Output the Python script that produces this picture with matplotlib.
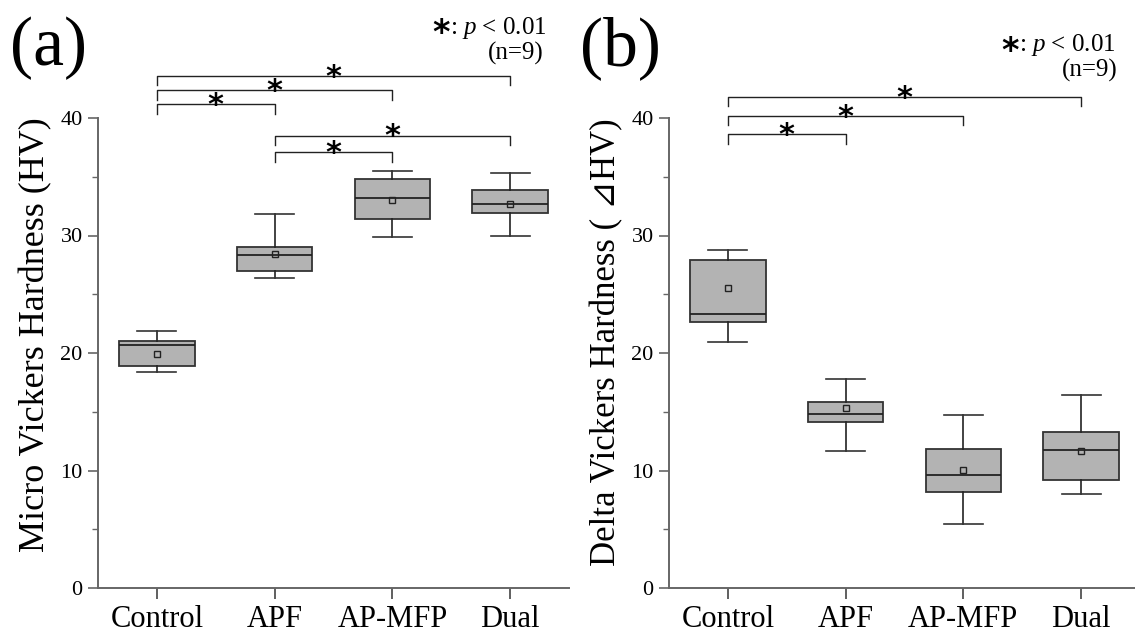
import numpy as np
import matplotlib
matplotlib.use("Agg")
import matplotlib.pyplot as plt

plt.rcParams['font.family'] = ['Liberation Serif', 'DejaVu Sans', 'Noto Sans CJK JP']
plt.rcParams['mathtext.fontset'] = 'custom'
plt.rcParams['mathtext.rm'] = 'Liberation Serif'
plt.rcParams['mathtext.it'] = 'Liberation Serif:italic'

groups = ['Control', 'APF', 'AP-MFP', 'Dual']

# (a) micro vickers hardness
a_whislo = [18.4, 26.4, 29.9, 30.0]
a_q1 = [18.9, 27.0, 31.4, 31.9]
a_med = [20.7, 28.3, 33.2, 32.7]
a_q3 = [21.0, 29.0, 34.8, 33.9]
a_whishi = [21.9, 31.8, 35.5, 35.3]
a_mean = [19.9, 28.4, 33.0, 32.7]

# (b) delta vickers hardness
b_whislo = [20.9, 11.65, 5.44, 8.0]
b_q1 = [22.6, 14.1, 8.14, 9.2]
b_med = [23.3, 14.8, 9.58, 11.76]
b_q3 = [27.9, 15.8, 11.8, 13.3]
b_whishi = [28.8, 17.8, 14.7, 16.4]
b_mean = [25.5, 15.3, 10.06, 11.7]

# significance brackets: (from, to, line height, leg bottom)
a_pairs = [(1, 4, 43.55, 42.85), (1, 3, 42.35, 41.55), (1, 2, 41.15, 40.3),
           (2, 4, 38.5, 37.7), (2, 3, 37.1, 36.25)]
b_pairs = [(1, 4, 41.8, 41.0), (1, 3, 40.2, 39.4), (1, 2, 38.65, 37.8)]

W, H = 1135, 631
fig = plt.figure(figsize=(W / 100, H / 100), dpi=100)


def px_axes(x0, x1, ytop, ybot):
    return fig.add_axes([x0 / W, 1 - ybot / H, (x1 - x0) / W, (ybot - ytop) / H])


def draw_panel(ax, lo, q1, med, q3, hi, mean, pairs):
    stats = []
    for i in range(len(groups)):
        stats.append(dict(whislo=lo[i], q1=q1[i], med=med[i], q3=q3[i],
                          whishi=hi[i], mean=mean[i], fliers=[]))
    ax.bxp(stats, positions=[1, 2, 3, 4], widths=0.64, capwidths=0.33,
           patch_artist=True, showmeans=True,
           boxprops=dict(facecolor='#b3b3b3', edgecolor='#333333', linewidth=1.3),
           medianprops=dict(color='#222222', linewidth=1.3),
           whiskerprops=dict(color='#222222', linewidth=1.2),
           capprops=dict(color='#333333', linewidth=1.2),
           meanprops=dict(marker='s', markersize=5, markerfacecolor='none',
                          markeredgecolor='#222222', markeredgewidth=1.0))
    for x1, x2, y, yl in pairs:
        ax.plot([x1, x1, x2, x2], [yl, y, y, yl], color='#222222', lw=1.0,
                clip_on=False)
        ax.text((x1 + x2) / 2, y - 1.35, '*', ha='center', va='bottom',
                fontsize=22, fontweight='bold', family='DejaVu Sans',
                clip_on=False)
    ax.set_xlim(0.5, 4.5)
    ax.set_ylim(0, 40)
    ax.set_xticks([1, 2, 3, 4])
    ax.set_xticklabels(groups, fontsize=22)
    ax.set_yticks([0, 10, 20, 30, 40])
    ax.set_yticks([5, 15, 25, 35], minor=True)
    ax.tick_params(axis='y', labelsize=16, length=7, width=1.2, color='#666666', pad=4)
    ax.tick_params(axis='y', which='minor', length=4, width=1.0, color='#666666')
    ax.tick_params(axis='x', length=8, width=1.2, color='#444444', pad=4)
    for s in ['top', 'right']:
        ax.spines[s].set_visible(False)
    for s in ['left', 'bottom']:
        ax.spines[s].set_color('#666666')
        ax.spines[s].set_linewidth(1.4)


axa = px_axes(98, 569, 118, 588)
draw_panel(axa, a_whislo, a_q1, a_med, a_q3, a_whishi, a_mean, a_pairs)
axb = px_axes(669, 1140, 118, 588)
draw_panel(axb, b_whislo, b_q1, b_med, b_q3, b_whishi, b_mean, b_pairs)

fig.text(36 / W, 1 - 335 / H, 'Micro Vickers Hardness (HV)', rotation=90,
         ha='center', va='center', fontsize=26)
fig.text(607 / W, 1 - 342 / H, 'Delta Vickers Hardness ( ⊿HV)', rotation=90,
         ha='center', va='center', fontsize=25)

fig.text(10 / W, 1 - 48 / H, '(a)', ha='left', va='center', fontsize=50)
fig.text(580 / W, 1 - 48 / H, '(b)', ha='left', va='center', fontsize=50)

# legend notes: (star centre x, text left x, p-line y, n-line right x, n-line y)
for xs, xt, yt, xn, yn in [(441, 450, 28, 544, 53), (1010, 1019, 45, 1118, 70)]:
    fig.text(xs / W, 1 - (yt + 6) / H, '*', ha='center', va='center',
             fontsize=24, fontweight='bold', family='DejaVu Sans')
    fig.text(xt / W, 1 - yt / H, ': $p$ < 0.01', ha='left', va='center', fontsize=18)
    fig.text(xn / W, 1 - yn / H, '(n=9)', ha='right', va='center', fontsize=18)

fig.savefig('out.png', dpi=100)
